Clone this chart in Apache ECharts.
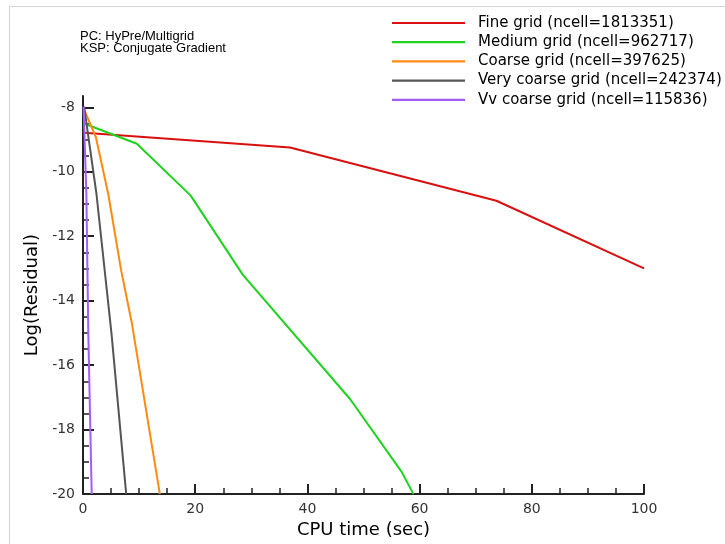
<!DOCTYPE html>
<html>
<head>
<meta charset="utf-8">
<script src="https://cdn.jsdelivr.net/npm/echarts@6/dist/echarts.min.js"></script>
<style>html,body{margin:0;padding:0;background:#fff;}#c{width:725px;height:544px;}</style>
</head>
<body>
<div id="c"></div>
<script>
// Series names
const seriesNames = [
  'Fine grid (ncell=1813351)',
  'Medium grid (ncell=962717)',
  'Coarse grid (ncell=397625)',
  'Very coarse grid (ncell=242374)',
  'Vv coarse grid (ncell=115836)'
];
// CPU time (sec) and Log(Residual) values per series
const fineX = [0.2, 36.9, 73.7, 100];
const fineY = [-8.79, -9.25, -10.9, -13.0];
const mediumX = [0.3, 9.6, 19.2, 28.5, 47.6, 56.8, 58.9];
const mediumY = [-8.51, -9.13, -10.74, -13.2, -17.05, -19.31, -20.0];
const coarseX = [0.2, 2.3, 4.5, 6.8, 8.7, 13.7];
const coarseY = [-8.07, -8.93, -10.69, -13.06, -14.69, -20.0];
const vcoarseX = [0.2, 2.4, 5.1, 7.7];
const vcoarseY = [-7.98, -10.69, -15.05, -20.0];
const vvcoarseX = [0.1, 0.6, 0.95, 1.55];
const vvcoarseY = [-7.98, -10.69, -15.05, -20.0];
// Axis ticks
const xTicks = [0, 20, 40, 60, 80, 100];
const yTicks = [-20, -18, -16, -14, -12, -10, -8];
const yMinorTicks = [-19.5, -19, -18.5, -17.5, -17, -16.5, -15.5, -15, -14.5, -13.5, -13, -12.5,
  -11.5, -11, -10.5, -9.5, -9, -8.5];

const colors = ['#d81010', '#1ed21e', '#ff8a10', '#555555', '#a45cff'];
const xs = [fineX, mediumX, coarseX, vcoarseX, vvcoarseX];
const ys = [fineY, mediumY, coarseY, vcoarseY, vvcoarseY];

const font = 'DejaVu Sans, sans-serif';
const chart = echarts.init(document.getElementById('c'));
chart.setOption({
  backgroundColor: '#fff',
  animation: false,
  grid: { left: 83, right: 81, top: 96, bottom: 47 },
  legend: {
    orient: 'vertical',
    left: 387, top: 10.5,
    itemWidth: 73, itemHeight: 14, itemGap: 4.2,
    textStyle: { fontFamily: font, fontSize: 15, color: '#000', padding: [0, 0, 0, 8] },
    data: seriesNames.map((n, i) => ({ name: n, icon: 'path://M0,0 L100,0 L100,3 L0,3 Z' }))
  },
  graphic: [
    { type: 'line', shape: { x1: 9, y1: 6.5, x2: 725, y2: 6.5 }, style: { stroke: '#d4d4d4', lineWidth: 1 } },
    { type: 'line', shape: { x1: 9.5, y1: 6, x2: 9.5, y2: 544 }, style: { stroke: '#d4d4d4', lineWidth: 1 } },
    { type: 'text', left: 80, top: 30, style: { text: 'PC: HyPre/Multigrid\nKSP: Conjugate Gradient', font: '13px Liberation Sans, Arial, sans-serif', fill: '#000', lineHeight: 11.5 } }
  ],
  xAxis: {
    type: 'value', min: 0, max: 100, interval: 20,
    name: 'CPU time (sec)', nameLocation: 'middle', nameGap: 18,
    nameTextStyle: { fontFamily: font, fontSize: 18, color: '#000' },
    axisLine: { show: true, lineStyle: { color: '#222', width: 2 } },
    axisTick: { show: true, inside: true, length: 10, lineStyle: { color: '#222', width: 2 } },
    minorTick: { show: true, splitNumber: 4, length: 6, lineStyle: { color: '#222', width: 1.5 } },
    axisLabel: { fontFamily: font, fontSize: 14, color: '#333', margin: 8,
      formatter: v => xTicks.includes(v) ? String(v) : '' },
    splitLine: { show: false }
  },
  yAxis: [{
    type: 'value', min: -20, max: -7.65, interval: 2,
    name: 'Log(Residual)', nameLocation: 'middle', nameGap: 40, nameRotate: 90,
    nameTextStyle: { fontFamily: font, fontSize: 18, color: '#000' },
    axisLine: { show: true, lineStyle: { color: '#222', width: 2 } },
    axisTick: { show: true, inside: true, length: 11, customValues: yTicks, lineStyle: { color: '#222', width: 2 } },
    minorTick: { show: false },
    axisLabel: { fontFamily: font, fontSize: 14, color: '#333', margin: 8, customValues: yTicks,
      formatter: v => String(v) },
    splitLine: { show: false }
  }, {
    type: 'value', min: -20, max: -7.65, position: 'left',
    axisLine: { show: false },
    axisTick: { show: true, inside: true, length: 6, customValues: yMinorTicks, lineStyle: { color: '#222', width: 1.5 } },
    axisLabel: { show: false },
    splitLine: { show: false }
  }],
  series: seriesNames.map((n, i) => ({
    name: n, type: 'line', symbol: 'none', color: colors[i],
    lineStyle: { width: 2, color: colors[i] },
    data: xs[i].map((x, k) => [x, ys[i][k]]),
    z: 2 + i
  }))
});
</script>
</body>
</html>
